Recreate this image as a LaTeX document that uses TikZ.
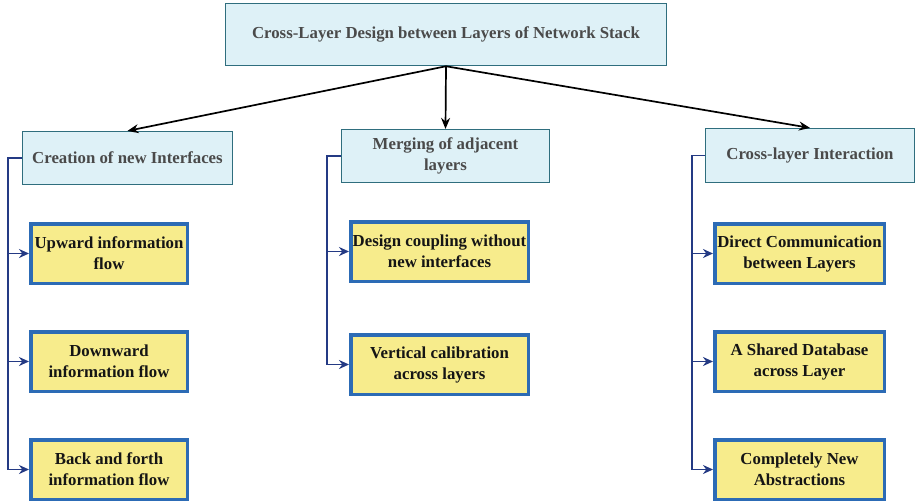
\documentclass[tikz,border=0pt]{standalone}
\usepackage{fontspec}
\setmainfont{Liberation Serif}
\usetikzlibrary{arrows.meta}
\definecolor{cyanfill}{HTML}{DEF1F7}
\definecolor{tealedge}{HTML}{2F6E7E}
\definecolor{yellowfill}{HTML}{F7EC8C}
\definecolor{blueedge}{HTML}{2C6BB5}
\definecolor{navyline}{HTML}{243A84}
\definecolor{graytext}{HTML}{4A4A4A}
\definecolor{darktext}{HTML}{151515}
\begin{document}
\begin{tikzpicture}[x=1pt,y=-1pt,
  topbox/.style={draw=tealedge, line width=1.5pt, fill=cyanfill, minimum width=441pt, minimum height=62pt, inner sep=0pt, text=graytext, font=\bfseries\fontsize{16.8}{21}\selectfont},
  catbox/.style={draw=tealedge, line width=1.2pt, fill=cyanfill, inner sep=0pt, text=graytext, align=center, font=\bfseries\fontsize{16.8}{21}\selectfont},
  leafbox/.style={draw=blueedge, line width=3.5pt, fill=yellowfill, inner sep=0pt, text=darktext, align=center, font=\bfseries\fontsize{16.8}{21}\selectfont},
  toparrow/.style={-{Stealth[length=11pt,width=9pt]}, line width=1.7pt, black},
  trunk/.style={line width=1.8pt, navyline},
  branch/.style={-{Stealth[length=10pt,width=9pt]}, line width=1.8pt, navyline}]
\useasboundingbox (0,0) rectangle (916,503);
\node[topbox] (top) at (446,34.5) {Cross-Layer Design between Layers of Network Stack};
\node[catbox, minimum width=210pt, minimum height=53pt] (creation) at (127.5,158) {Creation of new Interfaces};
\node[catbox, minimum width=208pt, minimum height=53pt] (merging) at (445.5,156) {Merging of adjacent\\layers};
\node[catbox, minimum width=209pt, minimum height=54pt] (cross) at (810,155.5) {Cross-layer Interaction};
\node[leafbox, minimum width=156.5pt, minimum height=59.5pt] (upward) at (109,253.5) {Upward information\\flow};
\node[leafbox, minimum width=156.5pt, minimum height=59.5pt] (downward) at (109,361.5) {Downward\\information flow};
\node[leafbox, minimum width=156.5pt, minimum height=59.5pt] (backforth) at (109,469.5) {Back and forth\\information flow};
\node[leafbox, minimum width=177.5pt, minimum height=59.5pt] (coupling) at (439.5,251.5) {Design coupling without\\new interfaces};
\node[leafbox, minimum width=177.5pt, minimum height=59.5pt] (calib) at (439.5,364.5) {Vertical calibration\\across layers};
\node[leafbox, minimum width=169.5pt, minimum height=59.5pt] (direct) at (799.5,253.5) {Direct Communication\\between Layers};
\node[leafbox, minimum width=169.5pt, minimum height=59.5pt] (shared) at (799.5,361.5) {A Shared Database\\across Layer};
\node[leafbox, minimum width=169.5pt, minimum height=59.5pt] (newabs) at (799.5,469.5) {Completely New\\Abstractions};
\draw[toparrow] (top.south) -- (creation.north);
\draw[toparrow] (top.south) -- (merging.north);
\draw[toparrow] (top.south) -- (cross.north);
\coordinate (lcol) at (8,0);
\coordinate (mcol) at (327,0);
\coordinate (rcol) at (692,0);
\draw[trunk] (creation.west) -| (lcol |- backforth.west);
\draw[branch] (lcol |- upward.west) -- (upward.west);
\draw[branch] (lcol |- downward.west) -- (downward.west);
\draw[branch] (lcol |- backforth.west) -- (backforth.west);
\draw[trunk] (merging.west) -| (mcol |- calib.west);
\draw[branch] (mcol |- coupling.west) -- (coupling.west);
\draw[branch] (mcol |- calib.west) -- (calib.west);
\draw[trunk] (cross.west) -| (rcol |- newabs.west);
\draw[branch] (rcol |- direct.west) -- (direct.west);
\draw[branch] (rcol |- shared.west) -- (shared.west);
\draw[branch] (rcol |- newabs.west) -- (newabs.west);
\end{tikzpicture}
\end{document}
